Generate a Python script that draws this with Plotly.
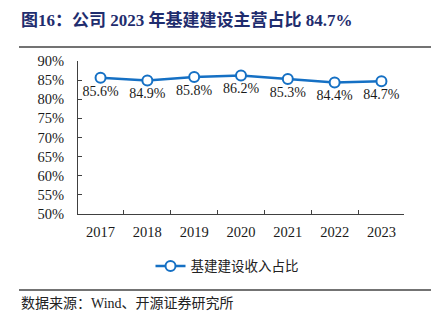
import plotly.graph_objects as go

years = ["2017", "2018", "2019", "2020", "2021", "2022", "2023"]
share = [85.6, 84.9, 85.8, 86.2, 85.3, 84.4, 84.7]
labels = ["85.6%", "84.9%", "85.8%", "86.2%", "85.3%", "84.4%", "84.7%"]
series_name = "基建建设收入占比"
title_text = "图16：公司 2023 年基建建设主营占比 84.7%"
source_text = "数据来源：Wind、开源证券研究所"
y_ticks = [50, 55, 60, 65, 70, 75, 80, 85, 90]

serif = "Liberation Serif, Times New Roman, Noto Sans CJK SC, serif"
blue = "#1570C4"
axis_col = "#404040"

fig = go.Figure()
fig.add_trace(go.Scatter(
    x=years, y=share, name=series_name,
    mode="lines+markers+text",
    text=labels, textposition="bottom center",
    textfont=dict(family=serif, size=14, color="#1a1a1a"),
    line=dict(color=blue, width=2.5),
    marker=dict(symbol="circle", size=10, color="white",
                line=dict(color=blue, width=2)),
))

fig.update_layout(
    width=436, height=322,
    margin=dict(l=78, r=32, t=61, b=108),
    paper_bgcolor="white", plot_bgcolor="white",
    showlegend=True,
    legend=dict(orientation="h", x=(227-78)/326, xanchor="center", y=-0.24, yanchor="top",
                font=dict(family="Noto Sans CJK SC", size=13.5, color="#222"),
                itemwidth=30),
    font=dict(family=serif, size=14, color="#1a1a1a"),
)
fig.update_xaxes(
    type="category", showline=True, linecolor=axis_col, linewidth=1,
    ticks="inside", ticklen=4, tickcolor=axis_col, tickson="boundaries",
    showgrid=False, tickfont=dict(family=serif, size=14.5, color="#1a1a1a"),
    ticklabelstandoff=5,
)
fig.update_yaxes(
    range=[50, 90], tickvals=y_ticks, ticktext=[f"{v}%" for v in y_ticks],
    showline=True, linecolor=axis_col, linewidth=1,
    ticks="inside", ticklen=4, tickcolor=axis_col,
    showgrid=False, zeroline=False, ticklabelstandoff=10,
    tickfont=dict(family=serif, size=14.5, color="#1a1a1a"),
)

fig.add_annotation(text=f"<b>{title_text}</b>", xref="paper", yref="paper",
                   x=-78/326, xanchor="left", y=(214-20)/153, yanchor="middle",
                   showarrow=False, xshift=19,
                   font=dict(family="Liberation Serif, Noto Sans CJK SC, serif", size=17, color="#1F2D6E"))
fig.add_annotation(text=source_text, xref="paper", yref="paper",
                   x=-78/326, xanchor="left", y=-(303-214)/153, yanchor="middle",
                   showarrow=False, xshift=19,
                   font=dict(family="Liberation Serif, Noto Sans CJK SC, serif", size=14, color="#222"))
# horizontal rules
fig.add_shape(type="line", xref="paper", yref="paper",
              x0=(19-78)/326, x1=(431-78)/326, y0=(214-47)/153, y1=(214-47)/153,
              line=dict(color="#444", width=1.5))
fig.add_shape(type="line", xref="paper", yref="paper",
              x0=(19-78)/326, x1=(431-78)/326, y0=-(290-214)/153, y1=-(290-214)/153,
              line=dict(color="#444", width=1.5))

fig.write_html("out.html")
